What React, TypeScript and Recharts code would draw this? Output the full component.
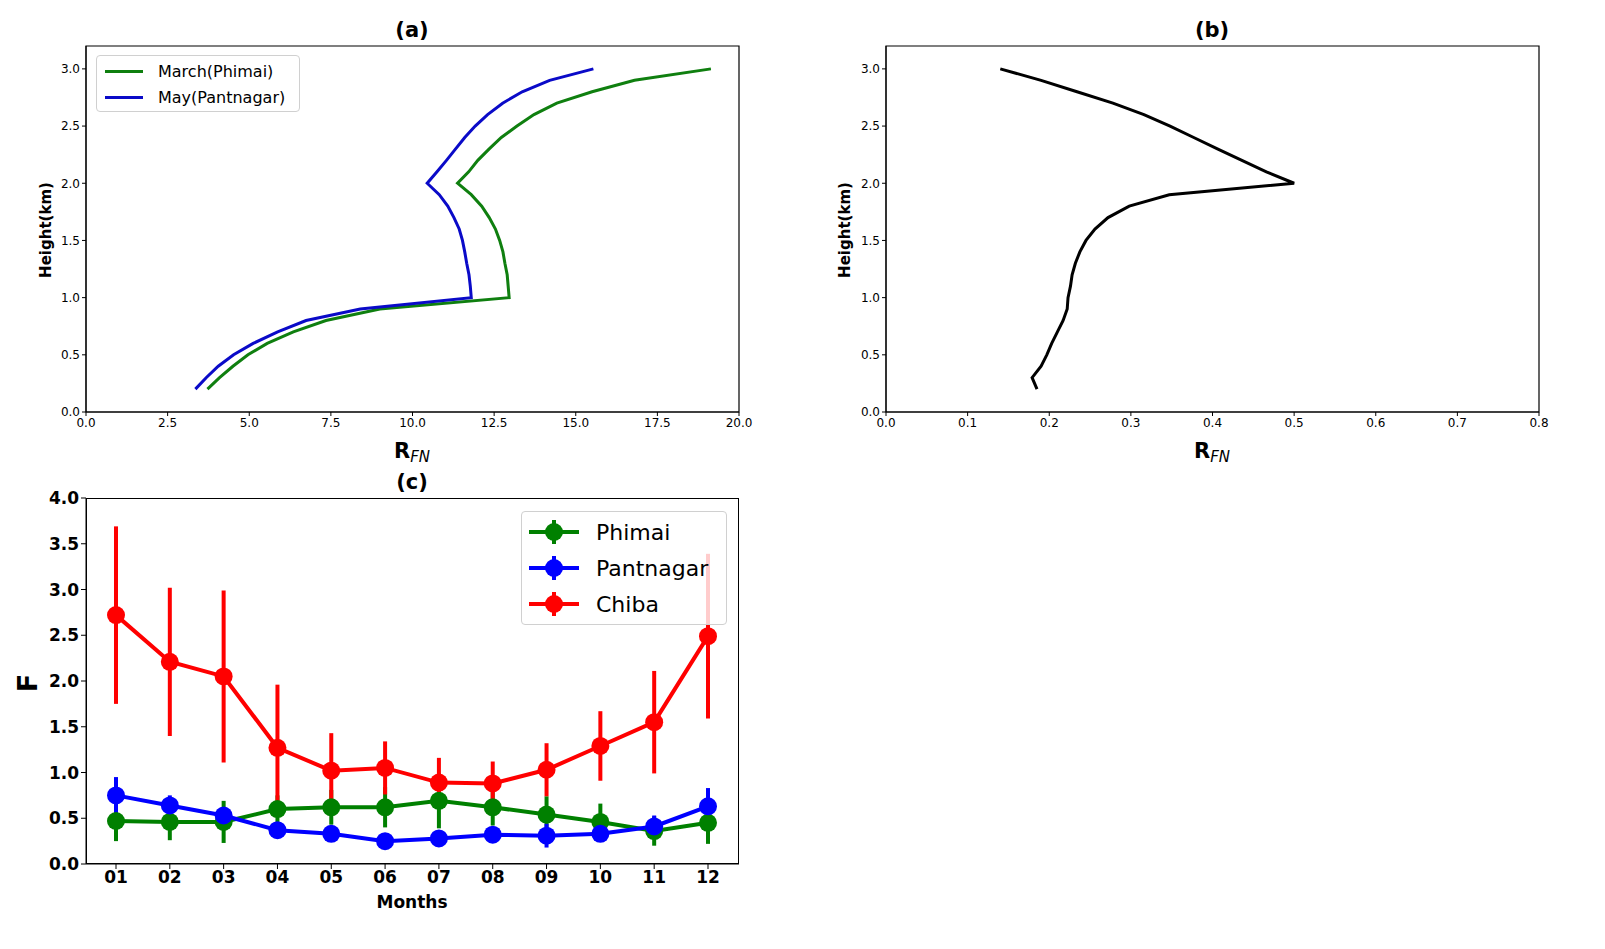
import React from 'react';
import {
  ScatterChart, Scatter, LineChart, Line, XAxis, YAxis, ReferenceArea, ErrorBar,
} from 'recharts';

// heights (km) of the vertical profiles
const heights = [
  0.2, 0.3, 0.4, 0.5, 0.6, 0.7, 0.8, 0.9, 1.0, 1.1, 1.2, 1.3, 1.4, 1.5, 1.6,
  1.7, 1.8, 1.9, 2.0, 2.1, 2.2, 2.3, 2.4, 2.5, 2.6, 2.7, 2.8, 2.9, 3.0,
];
const marchPhimai = [
  3.72, 4.09, 4.5, 4.96, 5.55, 6.35, 7.35, 9.0, 12.96, 12.93, 12.9, 12.83, 12.77, 12.67, 12.54,
  12.35, 12.12, 11.8, 11.38, 11.72, 12.0, 12.35, 12.72, 13.2, 13.72, 14.42, 15.5, 16.8, 19.14,
];
const mayPantnagar = [
  3.35, 3.68, 4.05, 4.52, 5.12, 5.87, 6.74, 8.4, 11.8, 11.77, 11.73, 11.66, 11.6, 11.53, 11.43,
  11.27, 11.08, 10.82, 10.45, 10.75, 11.04, 11.32, 11.6, 11.92, 12.3, 12.76, 13.36, 14.2, 15.54,
];
const ratio = [
  0.185, 0.179, 0.19, 0.197, 0.203, 0.21, 0.217, 0.222, 0.223, 0.226, 0.228, 0.232, 0.2375, 0.245, 0.256,
  0.272, 0.298, 0.347, 0.5, 0.466, 0.436, 0.406, 0.377, 0.348, 0.316, 0.278, 0.234, 0.19, 0.14,
];

const rTicksA = [0, 2.5, 5, 7.5, 10, 12.5, 15, 17.5, 20];
const rTicksB = [0, 0.1, 0.2, 0.3, 0.4, 0.5, 0.6, 0.7, 0.8];
const hTicks = [0, 0.5, 1, 1.5, 2, 2.5, 3];

// monthly F
const months = ['01', '02', '03', '04', '05', '06', '07', '08', '09', '10', '11', '12'];
const phimai = [0.47, 0.46, 0.46, 0.6, 0.62, 0.62, 0.69, 0.62, 0.54, 0.46, 0.36, 0.45];
const phimaiErr = [0.22, 0.2, 0.23, 0.15, 0.19, 0.22, 0.3, 0.2, 0.2, 0.2, 0.16, 0.23];
const pantnagar = [0.75, 0.64, 0.53, 0.37, 0.33, 0.25, 0.28, 0.32, 0.31, 0.33, 0.41, 0.63];
const pantnagarErr = [0.2, 0.11, 0.07, 0.05, 0.05, 0.05, 0.05, 0.05, 0.13, 0.05, 0.12, 0.2];
const chiba = [2.72, 2.21, 2.05, 1.27, 1.02, 1.05, 0.89, 0.88, 1.03, 1.29, 1.55, 2.49];
const chibaErr = [0.97, 0.81, 0.94, 0.69, 0.41, 0.29, 0.27, 0.24, 0.29, 0.38, 0.56, 0.9];
const fTicks = [0, 0.5, 1, 1.5, 2, 2.5, 3, 3.5, 4];

const profile = (xs: number[]) => heights.map((h, i) => ({ r: xs[i], h }));
const monthly = months.map((m, i) => ({
  month: m,
  phimai: phimai[i], phimaiErr: phimaiErr[i],
  pantnagar: pantnagar[i], pantnagarErr: pantnagarErr[i],
  chiba: chiba[i], chibaErr: chibaErr[i],
}));

const FONT = '"DejaVu Sans", sans-serif';
const GREEN = '#0f7f0f';
const BLUE = '#0a0ac8';
const tickSmall = { fill: '#000', fontSize: 12, fontFamily: FONT };
const tickBold = { fill: '#000', fontSize: 17, fontFamily: FONT, fontWeight: 'bold' };
const noDot = () => <g />;

const abs = (x: number, y: number, extra: React.CSSProperties = {}): React.CSSProperties => ({
  position: 'absolute', left: x, top: y, fontFamily: FONT, color: '#000', whiteSpace: 'nowrap', ...extra,
});

const Title = ({ x, y, text }: { x: number; y: number; text: string }) => (
  <div style={abs(x, y, { transform: 'translate(-50%, -50%)', fontSize: 21, fontWeight: 'bold' })}>{text}</div>
);

const RfnLabel = ({ x, y }: { x: number; y: number }) => (
  <div style={abs(x, y, { transform: 'translate(-50%, -50%)', fontSize: 21, fontWeight: 'bold' })}>
    R<sub style={{ fontSize: 15, fontStyle: 'italic', fontWeight: 'normal', verticalAlign: '-4px' }}>FN</sub>
  </div>
);

const VLabel = ({ x, y, text, size }: { x: number; y: number; text: string; size: number }) => (
  <div style={abs(x, y, { transform: 'translate(-50%, -50%) rotate(-90deg)', fontSize: size, fontWeight: 'bold' })}>{text}</div>
);

const ProfileChart = ({ ticks, max, children }: { ticks: number[]; max: number; children: React.ReactNode }) => (
  <ScatterChart width={760} height={470} margin={{ top: 46, right: 21, left: 56, bottom: 28 }}>
    <XAxis
      type="number" dataKey="r" domain={[0, max]} ticks={ticks} interval={0}
      tickFormatter={(v: number) => v.toFixed(1)} tick={tickSmall} tickSize={4}
      stroke="#000" height={30} allowDataOverflow
    />
    <YAxis
      type="number" dataKey="h" domain={[0, 3.2]} ticks={hTicks} interval={0}
      tickFormatter={(v: number) => v.toFixed(1)} tick={tickSmall} tickSize={4}
      stroke="#000" width={30} allowDataOverflow
    />
    <ReferenceArea x1={0} x2={max} y1={0} y2={3.2} fill="none" stroke="#000" strokeWidth={1.2} />
    {children}
  </ScatterChart>
);

const legendBox = { border: '1px solid #d0d0d0', borderRadius: 4, background: 'rgba(255,255,255,0.8)' };

const LegendA = () => (
  <div style={abs(96, 55, { width: 202, height: 55, ...legendBox })}>
    {[['March(Phimai)', GREEN], ['May(Pantnagar)', BLUE]].map(([name, color], i) => (
      <div key={name} style={{ position: 'absolute', left: 8, top: 4 + i * 26, height: 22, display: 'flex', alignItems: 'center' }}>
        <div style={{ width: 38, height: 3, background: color, marginRight: 15 }} />
        <span style={{ fontSize: 16 }}>{name}</span>
      </div>
    ))}
  </div>
);

const LegendC = () => (
  <div style={abs(521, 511, { width: 204, height: 112, ...legendBox })}>
    {[['Phimai', 'green'], ['Pantnagar', 'blue'], ['Chiba', 'red']].map(([name, color], i) => (
      <div key={name} style={{ position: 'absolute', left: 6, top: 4 + i * 36, height: 32, display: 'flex', alignItems: 'center' }}>
        <svg width={52} height={32} style={{ marginRight: 16 }}>
          <line x1={1} x2={51} y1={16} y2={16} stroke={color} strokeWidth={4} />
          <line x1={26} x2={26} y1={4} y2={28} stroke={color} strokeWidth={4} />
          <circle cx={26} cy={16} r={9} fill={color} />
        </svg>
        <span style={{ fontSize: 22 }}>{name}</span>
      </div>
    ))}
  </div>
);

export default function App() {
  return (
    <div style={{ position: 'absolute', left: 0, top: 0, width: 1605, height: 949, background: '#fff', overflow: 'hidden' }}>
      {/* (a) */}
      <div style={{ position: 'absolute', left: 0, top: 0 }}>
        <ProfileChart ticks={rTicksA} max={20}>
          <Scatter data={profile(marchPhimai)} line={{ stroke: GREEN, strokeWidth: 3 }} shape={noDot} isAnimationActive={false} />
          <Scatter data={profile(mayPantnagar)} line={{ stroke: BLUE, strokeWidth: 3 }} shape={noDot} isAnimationActive={false} />
        </ProfileChart>
      </div>
      <Title x={412} y={30} text="(a)" />
      <VLabel x={46} y={230} text="Height(km)" size={15} />
      <RfnLabel x={412} y={452} />
      <LegendA />

      {/* (b) */}
      <div style={{ position: 'absolute', left: 800, top: 0 }}>
        <ProfileChart ticks={rTicksB} max={0.8}>
          <Scatter data={profile(ratio)} line={{ stroke: '#000', strokeWidth: 3 }} shape={noDot} isAnimationActive={false} />
        </ProfileChart>
      </div>
      <Title x={1212} y={30} text="(b)" />
      <VLabel x={845} y={230} text="Height(km)" size={15} />
      <RfnLabel x={1212} y={452} />

      {/* (c) */}
      <div style={{ position: 'absolute', left: 0, top: 452 }}>
        <LineChart width={760} height={470} data={monthly} margin={{ top: 46, right: 21, left: 44, bottom: 28 }}>
          <XAxis
            dataKey="month" scale="point" padding={{ left: 30, right: 31 }} interval={0}
            tick={tickBold} tickSize={5} stroke="#000" height={30}
          />
          <YAxis
            type="number" domain={[0, 4]} ticks={fTicks} interval={0}
            tickFormatter={(v: number) => v.toFixed(1)} tick={tickBold} tickSize={5}
            stroke="#000" width={42} allowDataOverflow
          />
          <Line dataKey="phimai" stroke="green" strokeWidth={4} dot={{ r: 9, fill: 'green', stroke: 'green', strokeWidth: 0 }} activeDot={false} isAnimationActive={false}>
            <ErrorBar dataKey="phimaiErr" direction="y" width={0} stroke="green" strokeWidth={4} />
          </Line>
          <Line dataKey="pantnagar" stroke="blue" strokeWidth={4} dot={{ r: 9, fill: 'blue', stroke: 'blue', strokeWidth: 0 }} activeDot={false} isAnimationActive={false}>
            <ErrorBar dataKey="pantnagarErr" direction="y" width={0} stroke="blue" strokeWidth={4} />
          </Line>
          <Line dataKey="chiba" stroke="red" strokeWidth={4} dot={{ r: 9, fill: 'red', stroke: 'red', strokeWidth: 0 }} activeDot={false} isAnimationActive={false}>
            <ErrorBar dataKey="chibaErr" direction="y" width={0} stroke="red" strokeWidth={4} />
          </Line>
        </LineChart>
      </div>
      {/* plot frame of (c) */}
      <div style={{ position: 'absolute', left: 86, top: 498, width: 653, height: 366, boxSizing: 'border-box', border: '1px solid #000', pointerEvents: 'none' }} />
      <Title x={412} y={482} text="(c)" />
      <VLabel x={27} y={683} text="F" size={27} />
      <div style={abs(412, 902, { transform: 'translate(-50%, -50%)', fontSize: 17, fontWeight: 'bold' })}>Months</div>
      <LegendC />
    </div>
  );
}
